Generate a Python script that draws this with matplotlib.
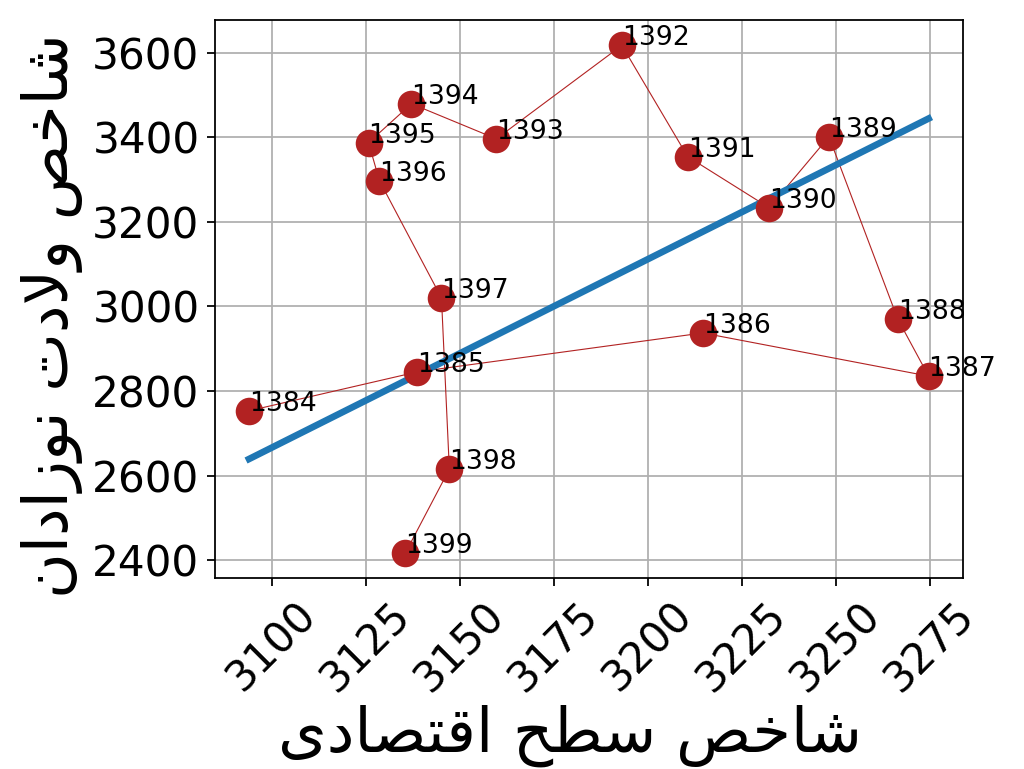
import numpy as np
import matplotlib
matplotlib.use("Agg")
import matplotlib.pyplot as plt
from matplotlib.ticker import MultipleLocator

years = [1384, 1385, 1386, 1387, 1388, 1389, 1390, 1391, 1392, 1393, 1394, 1395, 1396, 1397, 1398, 1399]
economic = [3093.9, 3138.7, 3214.6, 3274.7, 3266.5, 3248.2, 3232.3, 3210.6, 3193.1, 3159.7, 3137.1, 3125.7, 3128.6, 3145.1, 3147.2, 3135.5]
births = [2753, 2845, 2937, 2835, 2970, 3401, 3233, 3354, 3617, 3396, 3479, 3387, 3297, 3020, 2615, 2417]

# fitted trend line (at the x extremes)
fit_x = [3093.9, 3274.7]
fit_y = [2639, 3444]

# Persian labels in presentation forms, visual order
xlabel = "\uFEEF\uFEA9\uFE8E\uFEBC\uFE98\uFED7\uFE8D \uFEA2\uFEC4\uFEB3 \uFEBA\uFEA7\uFE8E\uFEB7"
ylabel = "\uFEE5\uFE8D\uFEA9\uFE8D\uFEAF\uFEEE\uFEE7 \uFE95\uFEA9\uFEFB\uFEED \uFEBA\uFEA7\uFE8E\uFEB7"

fig = plt.figure(figsize=(6.4, 769 / 160), dpi=160)
ax = fig.add_axes([0.21, 0.248, 0.73, 0.726])

x = np.array(economic)
y = np.array(births)
ax.plot(x, y, color="#b22222", lw=0.5, zorder=2)
ax.scatter(x, y, s=130, color="#b22222", zorder=3)
for yr, xi, yi in zip(years, x, y):
    ax.annotate(str(yr), (xi, yi), fontsize=12, zorder=4)

ax.plot(fit_x, fit_y, color="#1f77b4", lw=3, zorder=2.5)

ax.xaxis.set_major_locator(MultipleLocator(25))
ax.yaxis.set_major_locator(MultipleLocator(200))
ax.grid(True)
ax.set_axisbelow(True)
ax.tick_params(labelsize=19)
plt.setp(ax.get_xticklabels(), rotation=45)
ax.set_xlabel(xlabel, fontsize=28, labelpad=2)
ax.set_ylabel(ylabel, fontsize=28)
ax.xaxis.label.set_x(0.475)
ax.yaxis.label.set_y(0.471)
fig.savefig("out.png", dpi=160)
